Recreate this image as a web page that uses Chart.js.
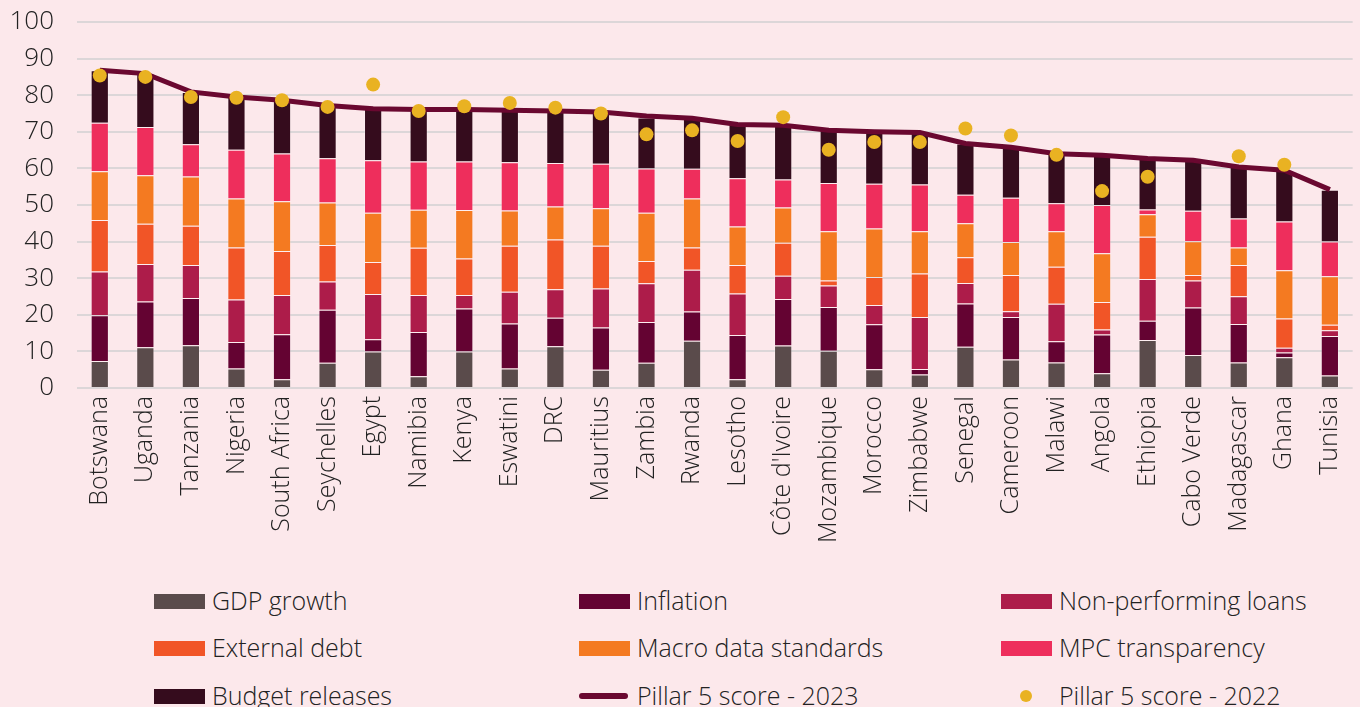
<!DOCTYPE html>
<html lang="en">
<head>
<meta charset="UTF-8">
<title>Pillar 5 scores</title>
<script src="https://cdn.jsdelivr.net/npm/chart.js@4.4.0/dist/chart.umd.min.js"></script>
<style>
  body { margin: 0; background: #fce8eb; font-family: "Open Sans", sans-serif; font-weight: 300; color: #222; }
  #wrap { position: relative; width: 1360px; height: 580px; }
  #legend { position: relative; width: 1360px; height: 127px; }
  .item { position: absolute; font-size: 25px; line-height: 30px; white-space: nowrap; }
  .sw { position: absolute; }
</style>
</head>
<body>
<div id="wrap"><canvas id="myChart"></canvas></div>
<div id="legend"></div>
<script>
  const countries = ['Botswana','Uganda','Tanzania','Nigeria','South Africa','Seychelles','Egypt','Namibia','Kenya','Eswatini','DRC','Mauritius','Zambia','Rwanda','Lesotho',"Côte d'Ivoire",'Mozambique','Morocco','Zimbabwe','Senegal','Cameroon','Malawi','Angola','Ethiopia','Cabo Verde','Madagascar','Ghana','Tunisia'];

  const gdpGrowth   = [7.4, 11.1, 11.7, 5.3, 2.4, 6.9, 10.0, 3.2, 10.0, 5.3, 11.4, 5.0, 6.9, 12.9, 2.4, 11.6, 10.2, 5.1, 3.7, 11.3, 7.8, 7.0, 4.0, 13.1, 9.0, 7.0, 8.4, 3.4];
  const inflation   = [12.5, 12.5, 12.9, 7.3, 12.3, 14.5, 3.3, 12.1, 11.7, 12.3, 7.8, 11.5, 11.1, 8.0, 12.1, 12.7, 11.9, 12.3, 1.5, 11.8, 11.6, 5.8, 10.6, 5.3, 13.0, 10.5, 1.3, 10.8];
  const npl         = [11.9, 10.3, 9.0, 11.6, 10.7, 7.7, 12.4, 10.1, 3.7, 8.7, 7.8, 10.7, 10.6, 11.4, 11.3, 6.4, 5.9, 5.3, 14.2, 5.6, 1.6, 10.2, 1.4, 11.4, 7.4, 7.6, 1.3, 1.6];
  const externalDebt = [14.1, 11.0, 10.7, 14.2, 12.0, 10.0, 8.7, 12.9, 10.0, 12.6, 13.6, 11.7, 6.1, 6.1, 7.8, 9.0, 1.4, 7.6, 11.9, 7.0, 9.9, 10.1, 7.5, 11.5, 1.5, 8.5, 8.0, 1.5];
  const macroData   = [13.3, 13.2, 13.5, 13.4, 13.6, 11.6, 13.5, 10.4, 13.2, 9.6, 9.0, 10.2, 13.2, 13.4, 10.5, 9.6, 13.4, 13.3, 11.5, 9.3, 9.0, 9.7, 13.3, 6.2, 9.2, 4.8, 13.2, 13.2];
  const mpc         = [13.3, 13.2, 8.8, 13.3, 13.1, 12.1, 14.3, 13.2, 13.3, 13.2, 11.9, 12.2, 12.1, 8.1, 13.2, 7.7, 13.2, 12.2, 12.8, 7.8, 12.1, 7.7, 13.2, 1.3, 8.3, 7.9, 13.3, 9.5];
  const budget      = [14.3, 14.6, 14.3, 14.4, 14.5, 14.4, 14.1, 14.2, 14.2, 14.2, 14.4, 14.1, 13.9, 13.6, 14.7, 14.8, 14.4, 14.2, 14.2, 14.0, 13.8, 13.5, 13.6, 13.9, 13.8, 14.1, 14.0, 14.2];
  const score2023   = [86.8, 85.9, 80.9, 79.5, 78.6, 77.2, 76.3, 76.1, 76.1, 75.9, 75.7, 75.4, 74.3, 73.7, 72.0, 71.8, 70.4, 70.0, 69.8, 66.8, 65.8, 64.0, 63.6, 62.7, 62.2, 60.4, 59.5, 54.2];
  const score2022   = [85.4, 85.0, 79.5, 79.3, 78.6, 76.8, 82.9, 75.7, 77.0, 77.9, 76.6, 75.0, 69.3, 70.4, 67.5, 74.0, 65.1, 67.2, 67.2, 70.9, 69.0, 63.7, 53.8, 57.7, null, 63.3, 61.0, null];
  const yTicks      = [0, 10, 20, 30, 40, 50, 60, 70, 80, 90, 100];

  const barSeries = [
    { label: 'GDP growth', data: gdpGrowth, color: '#5a4b4b' },
    { label: 'Inflation', data: inflation, color: '#640332' },
    { label: 'Non-performing loans', data: npl, color: '#ad1c4a' },
    { label: 'External debt', data: externalDebt, color: '#f15527' },
    { label: 'Macro data standards', data: macroData, color: '#f47a21' },
    { label: 'MPC transparency', data: mpc, color: '#ee2e5c' },
    { label: 'Budget releases', data: budget, color: '#350c1d' }
  ];
  const lineColor = '#6a0830';
  const dotColor = '#e9b222';

  const datasets = barSeries.map(s => ({
    type: 'bar',
    label: s.label,
    data: s.data,
    backgroundColor: s.color,
    borderColor: 'rgba(255,255,255,0.25)',
    borderWidth: 1,
    stack: 'bars',
    order: 10,
    barPercentage: 0.8,
    categoryPercentage: 0.5
  }));
  datasets.push({
    type: 'line', label: 'Pillar 5 score - 2023', data: score2023, stack: 'line', order: 1,
    borderColor: lineColor, borderWidth: 5, pointRadius: 0, tension: 0, fill: false
  });
  datasets.push({
    type: 'line', label: 'Pillar 5 score - 2022', data: score2022, stack: 'dots', order: 0,
    showLine: false, pointRadius: 7, pointBackgroundColor: dotColor, pointBorderWidth: 0
  });

  const ctx = document.getElementById('myChart').getContext('2d');
  const myChart = new Chart(ctx, {
    data: { labels: countries, datasets: datasets },
    options: {
      responsive: true,
      maintainAspectRatio: false,
      animation: false,
      layout: { padding: { top: 22, right: 5, left: 0, bottom: 0 } },
      plugins: { legend: { display: false }, tooltip: { enabled: false } },
      scales: {
        x: {
          stacked: true,
          grid: { display: false },
          border: { display: false },
          ticks: { color: '#222', font: { family: 'Open Sans', size: 25, weight: 300 }, minRotation: 90, maxRotation: 90, padding: 0, autoSkip: false },
          afterFit: s => { s.height = 192; }
        },
        y: {
          stacked: true,
          min: 0, max: 100,
          afterBuildTicks: s => { s.ticks = yTicks.map(v => ({ value: v })); },
          // tick marks kept invisible so the label gap does not add to the top padding
          grid: { color: '#dcd6d8', lineWidth: 2, drawTicks: true, tickLength: 23, tickColor: 'rgba(0,0,0,0)' },
          border: { display: false },
          ticks: { color: '#222', font: { family: 'Open Sans', size: 26, weight: 300 }, padding: 0 },
          afterFit: s => { s.width = 77; }
        }
      }
    }
  });

  // three-column legend under the chart
  const legendItems = barSeries.map(s => ({ label: s.label, kind: 'box', color: s.color }));
  legendItems.push({ label: 'Pillar 5 score - 2023', kind: 'line', color: lineColor });
  legendItems.push({ label: 'Pillar 5 score - 2022', kind: 'dot', color: dotColor });
  const colX = [154, 579, 1001];
  const rowY = [21, 68, 116];
  const legend = document.getElementById('legend');
  legendItems.forEach((it, i) => {
    const x = colX[i % 3], y = rowY[Math.floor(i / 3)];
    const sw = document.createElement('div');
    sw.className = 'sw';
    if (it.kind === 'box') {
      Object.assign(sw.style, { left: x + 'px', top: (y - 7) + 'px', width: '51px', height: '15px', background: it.color });
    } else if (it.kind === 'line') {
      Object.assign(sw.style, { left: x + 'px', top: (y - 3) + 'px', width: '49px', height: '6px', borderRadius: '3px', background: it.color });
    } else {
      Object.assign(sw.style, { left: (x + 19) + 'px', top: (y - 6) + 'px', width: '12px', height: '12px', borderRadius: '50%', background: it.color });
    }
    legend.appendChild(sw);
    const tx = document.createElement('div');
    tx.className = 'item';
    tx.textContent = it.label;
    Object.assign(tx.style, { left: (x + 58) + 'px', top: (y - 16) + 'px' });
    legend.appendChild(tx);
  });
</script>
</body>
</html>
